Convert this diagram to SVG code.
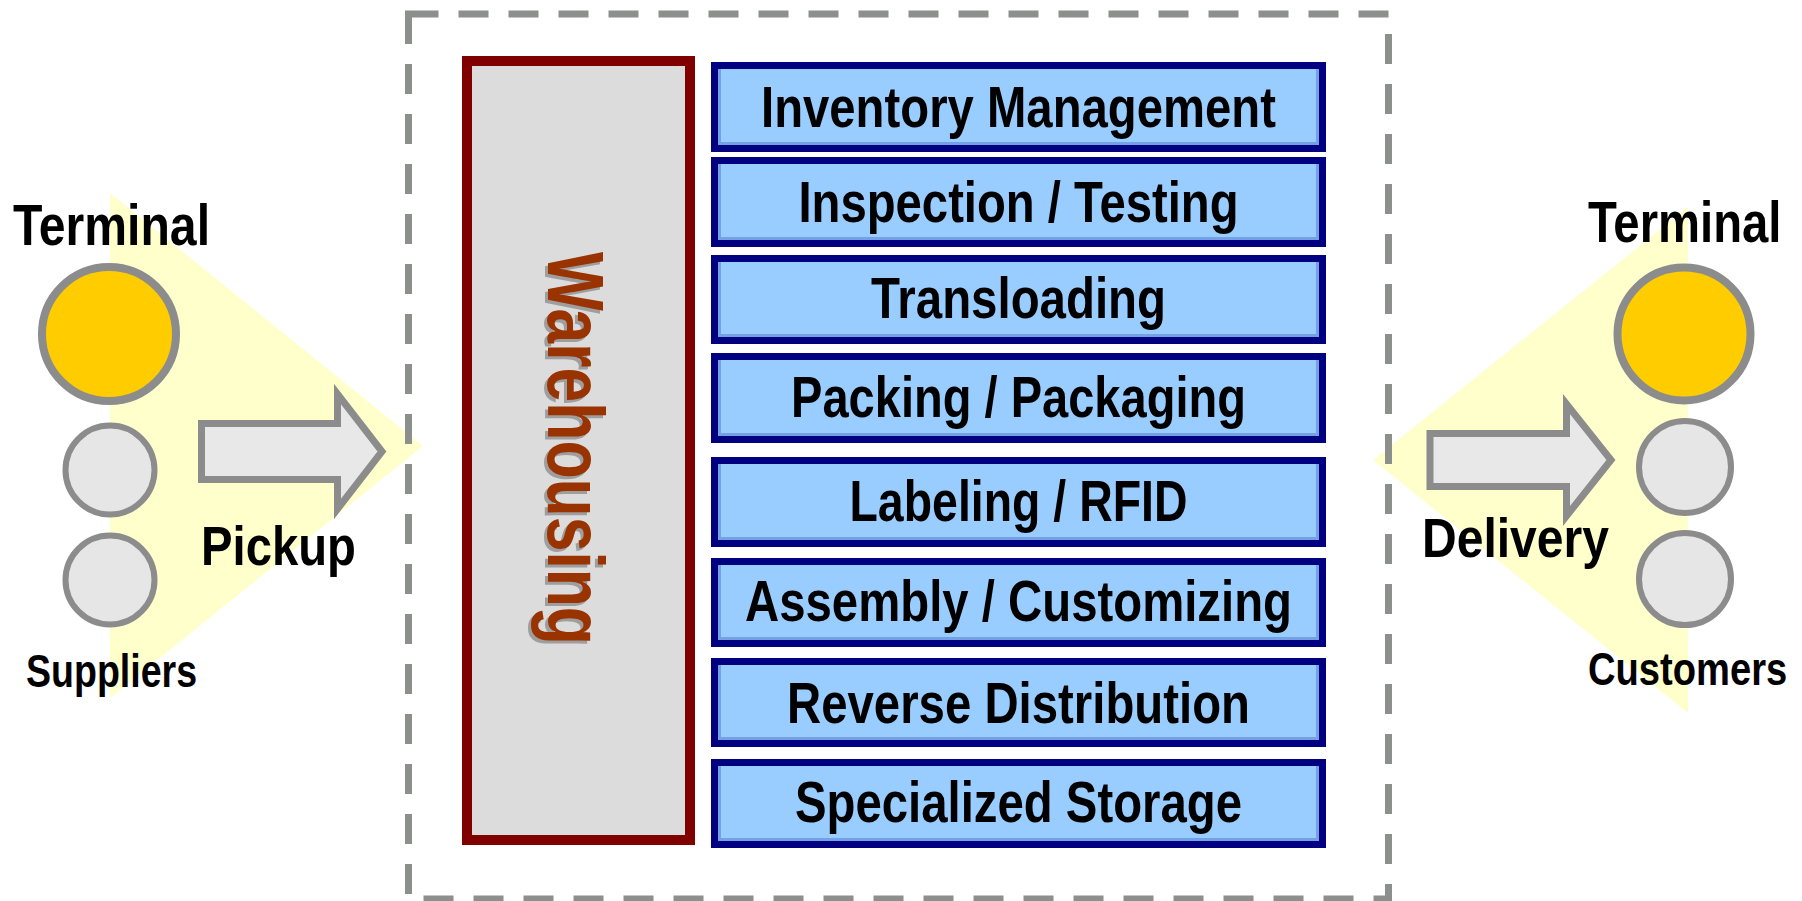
<svg xmlns="http://www.w3.org/2000/svg" width="1802" height="901" viewBox="0 0 1802 901">
  <style>
    .lbl { font-family: "Liberation Sans", Arial, sans-serif; font-weight: bold; fill: #000; }
    .svc { font-family: "Liberation Sans", Arial, sans-serif; font-weight: bold; font-size: 57px; fill: #000; text-anchor: middle; }
    .svc-box { fill: #99ccff; stroke: #000080; stroke-width: 7; }
    .bevel { fill: none; stroke: #74a0e4; stroke-width: 3; }
    .fan { fill: #ffffcc; stroke: none; }
    .terminal { fill: #ffcc00; stroke: #8c8c8c; stroke-width: 8; }
    .stop { fill: #e6e6e6; stroke: #8c8c8c; stroke-width: 6; }
    .flow { fill: #e8e8e8; stroke: #8c8c8c; stroke-width: 7; stroke-linejoin: miter; }
  </style>

  <rect x="0" y="0" width="1802" height="901" fill="#ffffff"/>

  <!-- pickup / delivery fans -->
  <polygon class="fan" points="110,193 423,446 110,698"/>
  <polygon class="fan" points="1688,207 1373,460 1688,713"/>

  <!-- service area boundary -->
  <rect id="service-area" x="408.5" y="14" width="980" height="885" fill="none" stroke="#8c908c" stroke-width="7" stroke-dasharray="30 20"/>

  <!-- warehousing column -->
  <g id="warehousing">
    <rect x="467" y="61" width="223" height="779" fill="#dcdcdc" stroke="#800000" stroke-width="10"/>
    <text transform="translate(548,448.5) rotate(90)" x="3" y="3" text-anchor="middle" font-family="Liberation Sans, Arial, sans-serif" font-weight="bold" font-size="80" fill="#8a8a8a" fill-opacity="0.75" textLength="393" lengthAdjust="spacingAndGlyphs">Warehousing</text>
    <text transform="translate(548,448.5) rotate(90)" x="0" y="0" text-anchor="middle" font-family="Liberation Sans, Arial, sans-serif" font-weight="bold" font-size="80" fill="#993300" textLength="393" lengthAdjust="spacingAndGlyphs">Warehousing</text>
  </g>

  <!-- value-added services -->
  <g id="svc-inventory">
    <rect class="svc-box" x="714.5" y="65.5" width="608" height="83"/>
    <polyline class="bevel" points="719.5,69 719.5,143.5 1317.5,143.5 1317.5,69"/>
    <text class="svc" x="1018.5" y="127" textLength="515" lengthAdjust="spacingAndGlyphs">Inventory Management</text>
  </g>
  <g id="svc-inspection">
    <rect class="svc-box" x="714.5" y="160.5" width="608" height="83"/>
    <polyline class="bevel" points="719.5,164 719.5,238.5 1317.5,238.5 1317.5,164"/>
    <text class="svc" x="1018.5" y="222" textLength="440" lengthAdjust="spacingAndGlyphs">Inspection / Testing</text>
  </g>
  <g id="svc-transloading">
    <rect class="svc-box" x="714.5" y="258.5" width="608" height="82"/>
    <polyline class="bevel" points="719.5,262 719.5,335.5 1317.5,335.5 1317.5,262"/>
    <text class="svc" x="1018.5" y="318" textLength="295" lengthAdjust="spacingAndGlyphs">Transloading</text>
  </g>
  <g id="svc-packing">
    <rect class="svc-box" x="714.5" y="356.5" width="608" height="83"/>
    <polyline class="bevel" points="719.5,360 719.5,434.5 1317.5,434.5 1317.5,360"/>
    <text class="svc" x="1018.5" y="417" textLength="455" lengthAdjust="spacingAndGlyphs">Packing / Packaging</text>
  </g>
  <g id="svc-labeling">
    <rect class="svc-box" x="714.5" y="460.5" width="608" height="83"/>
    <polyline class="bevel" points="719.5,464 719.5,538.5 1317.5,538.5 1317.5,464"/>
    <text class="svc" x="1018.5" y="521" textLength="338" lengthAdjust="spacingAndGlyphs">Labeling / RFID</text>
  </g>
  <g id="svc-assembly">
    <rect class="svc-box" x="714.5" y="561.5" width="608" height="82"/>
    <polyline class="bevel" points="719.5,565 719.5,638.5 1317.5,638.5 1317.5,565"/>
    <text class="svc" x="1018.5" y="621" textLength="547" lengthAdjust="spacingAndGlyphs">Assembly / Customizing</text>
  </g>
  <g id="svc-reverse">
    <rect class="svc-box" x="714.5" y="661.5" width="608" height="82"/>
    <polyline class="bevel" points="719.5,665 719.5,738.5 1317.5,738.5 1317.5,665"/>
    <text class="svc" x="1018.5" y="723" textLength="463" lengthAdjust="spacingAndGlyphs">Reverse Distribution</text>
  </g>
  <g id="svc-storage">
    <rect class="svc-box" x="714.5" y="762.5" width="608" height="82"/>
    <polyline class="bevel" points="719.5,766 719.5,839.5 1317.5,839.5 1317.5,766"/>
    <text class="svc" x="1018.5" y="822" textLength="447" lengthAdjust="spacingAndGlyphs">Specialized Storage</text>
  </g>

  <!-- supplier side -->
  <g id="suppliers">
    <text class="lbl" x="13" y="245" font-size="58" textLength="197" lengthAdjust="spacingAndGlyphs">Terminal</text>
    <circle class="terminal" cx="109" cy="334" r="67"/>
    <circle class="stop" cx="110" cy="470" r="44.5"/>
    <circle class="stop" cx="110" cy="580" r="44.5"/>
    <text class="lbl" x="26" y="687" font-size="46" textLength="171" lengthAdjust="spacingAndGlyphs">Suppliers</text>
  </g>

  <!-- customer side: labels narrowed with a horizontal scale so they stay inside the frame -->
  <g id="customers">
    <text class="lbl" transform="translate(1588,242) scale(0.815,1)" x="0" y="0" font-size="58">Terminal</text>
    <circle class="terminal" cx="1684" cy="334" r="66.5"/>
    <circle class="stop" cx="1685" cy="467" r="46"/>
    <circle class="stop" cx="1685" cy="579" r="46"/>
    <text class="lbl" transform="translate(1588,685) scale(0.829,1)" x="0" y="0" font-size="46">Customers</text>
  </g>

  <!-- flows in and out -->
  <g id="connectors">
    <path class="flow" d="M201.5,423.5 H337.5 V394 L382,451.5 L337.5,509 V479.5 H201.5 Z"/>
    <text class="lbl" x="201" y="565" font-size="56" textLength="155" lengthAdjust="spacingAndGlyphs">Pickup</text>
    <path class="flow" d="M1430,433.5 H1566.5 V404 L1611,460 L1566.5,516 V486.5 H1430 Z"/>
    <text class="lbl" x="1422" y="557" font-size="55" textLength="187" lengthAdjust="spacingAndGlyphs">Delivery</text>
  </g>
</svg>
